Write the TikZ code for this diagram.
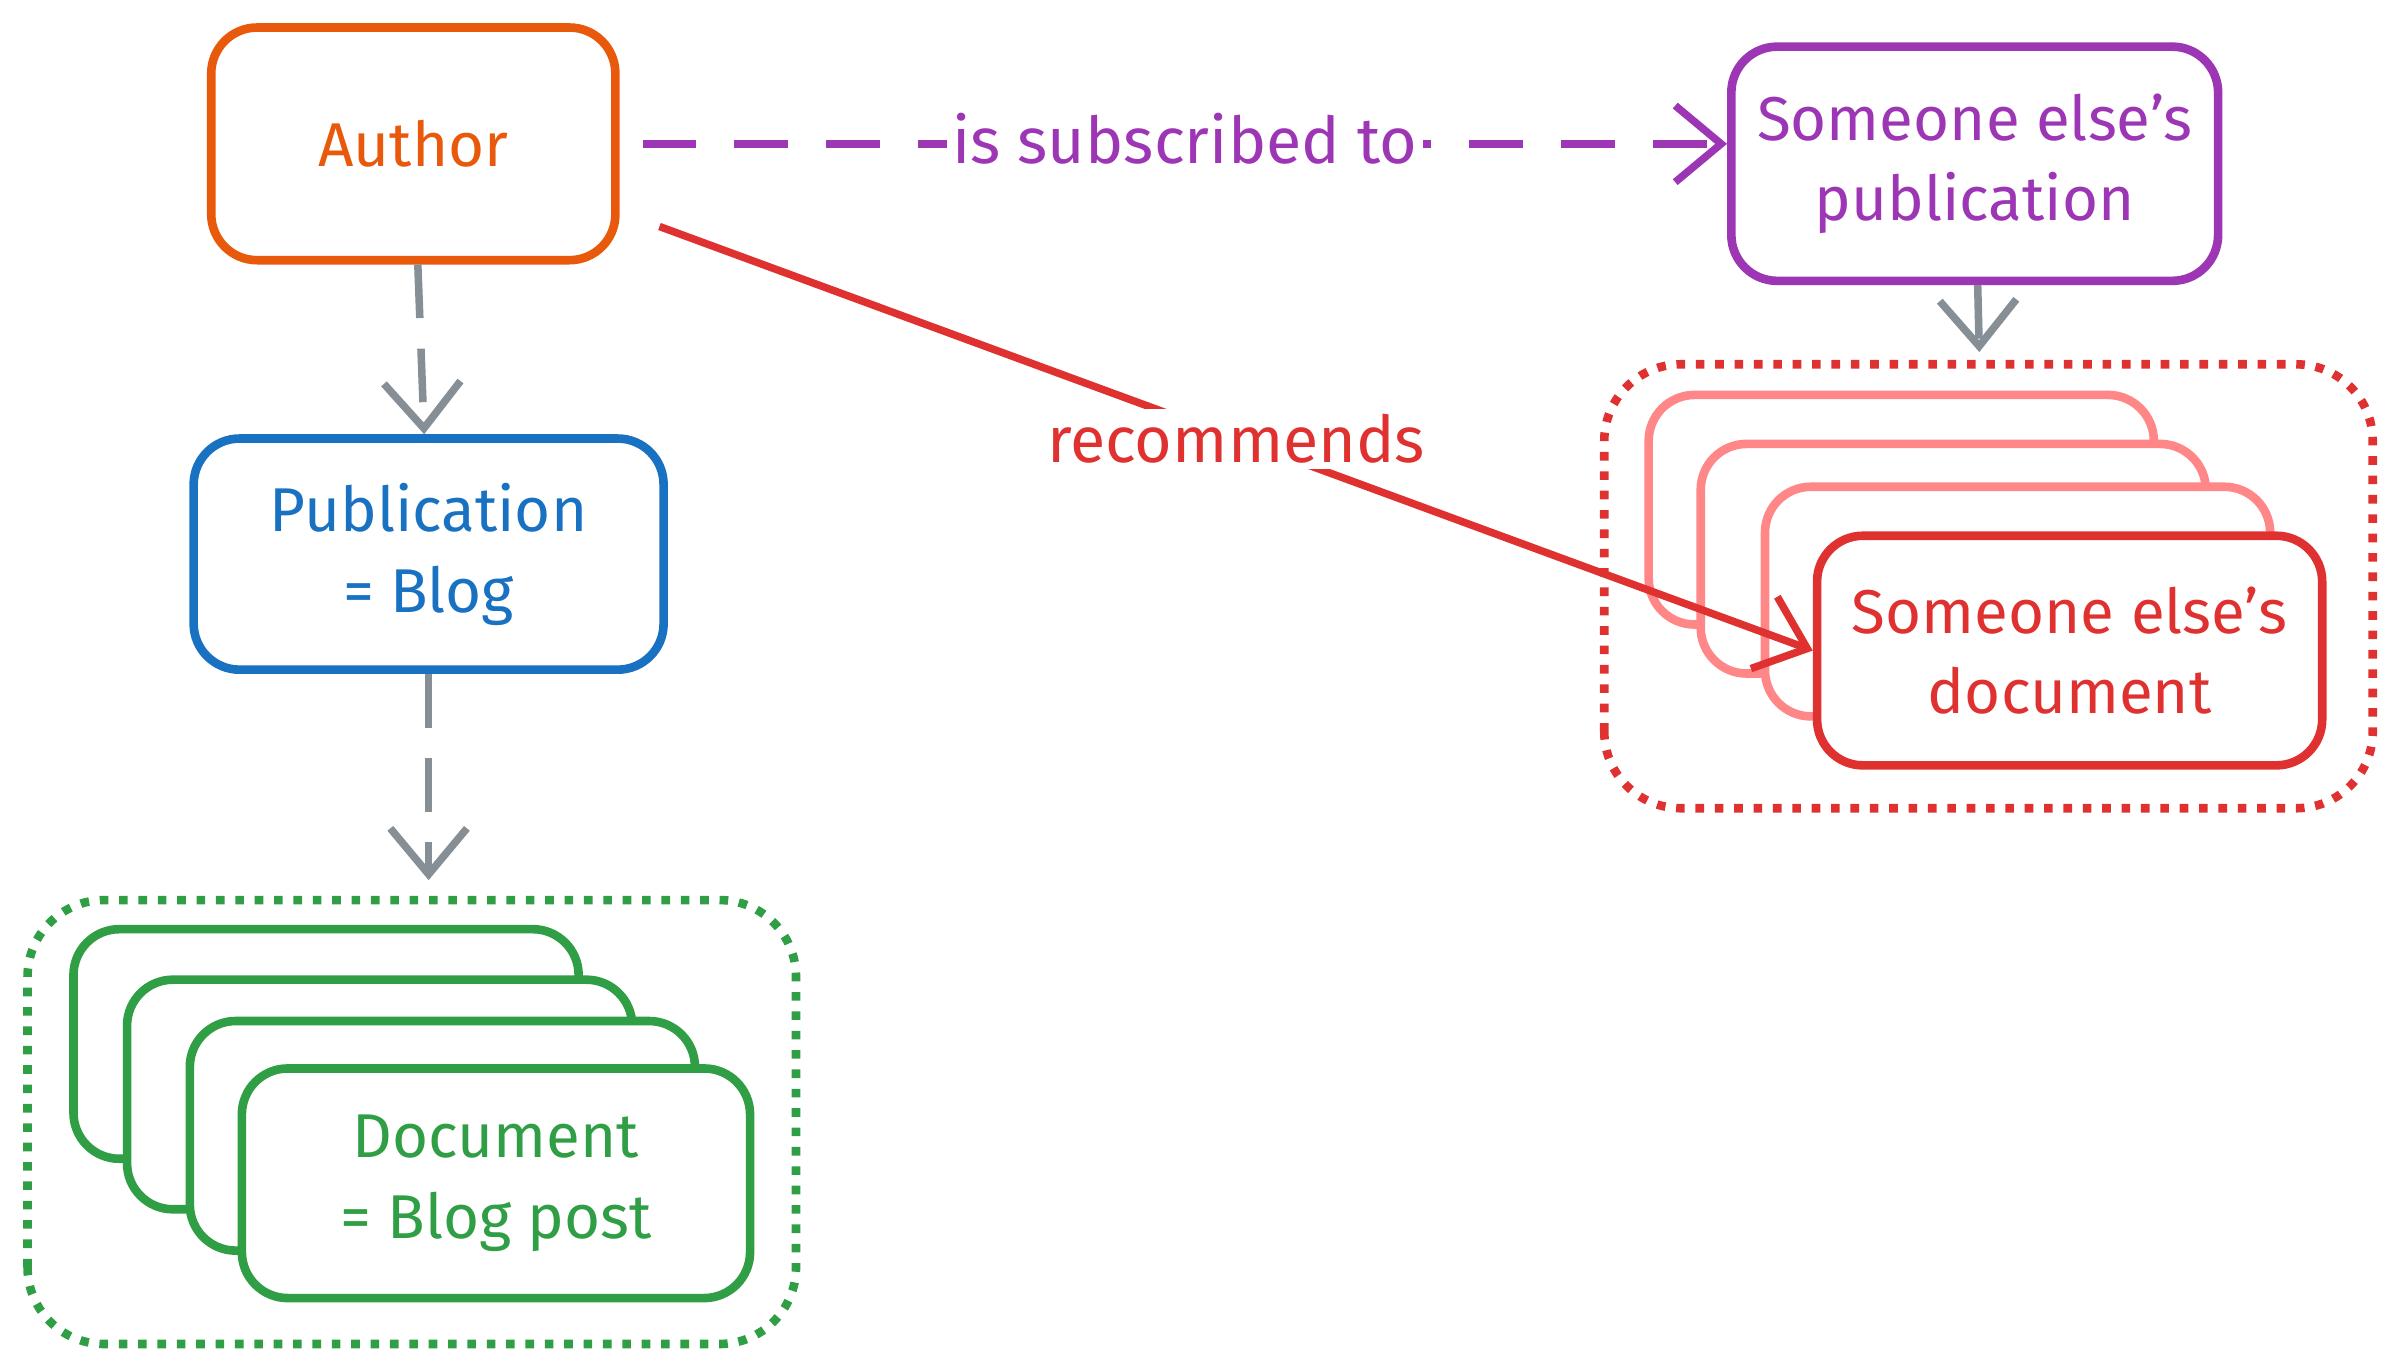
\documentclass[tikz,border=0pt]{standalone}
\usepackage{fontspec}
\setmainfont{Fira Sans}
\usetikzlibrary{arrows.meta}
\definecolor{cOrange}{HTML}{E8590C}
\definecolor{cPurple}{HTML}{9C36B5}
\definecolor{cBlue}{HTML}{1971C2}
\definecolor{cGreen}{HTML}{2F9E44}
\definecolor{cRed}{HTML}{E03131}
\definecolor{cPink}{HTML}{FF8787}
\definecolor{cGray}{HTML}{868E96}
\tikzset{
  box/.style={draw=#1, text=#1, line width=1.6pt, rounded corners=0.3cm, fill=white,
    minimum width=3.3cm, minimum height=1.5cm, inner sep=1pt, align=center, font=\fontsize{11.5}{15}\selectfont},
  group/.style={draw=#1, line width=1.6pt, dotted, rounded corners=0.5cm},
  link/.style={line width=1.4pt, -{Straight Barb[length=3mm,width=5mm]}},
  tag/.style={fill=white, inner sep=1pt, font=\fontsize{12}{15}\selectfont}
}
\begin{document}
\begin{tikzpicture}
\useasboundingbox (0,0) rectangle (15.6,8.93);
% left column
\node[box=cOrange, minimum width=2.64cm, minimum height=1.52cm] (author) at (2.70,7.99) {Author};
\node[box=cBlue, minimum width=3.07cm, minimum height=1.51cm] (blog) at (2.80,5.31) {Publication\\= Blog};
\draw[group=cGreen] (0.18,0.15) rectangle (5.20,3.05);
\node[box=cGreen] (doc1) at (2.13,2.11) {};
\node[box=cGreen] (doc2) at (2.48,1.78) {};
\node[box=cGreen] (doc3) at (2.89,1.51) {};
\node[box=cGreen, minimum width=3.32cm] (doc) at (3.24,1.20) {Document\\= Blog post};
\coordinate (docs) at (2.80,3.18);
% right column
\node[box=cPurple, minimum width=3.18cm, minimum height=1.53cm] (otherpub) at (12.90,7.86) {Someone else’s\\publication};
\draw[group=cRed] (10.48,3.65) rectangle (15.50,6.55);
\node[box=cPink] (odoc1) at (12.42,5.60) {};
\node[box=cPink] (odoc2) at (12.76,5.28) {};
\node[box=cPink] (odoc3) at (13.18,5.00) {};
\node[box=cRed] (odoc) at (13.52,4.68) {Someone else’s\\document};
\coordinate (odocs) at (12.93,6.63);
% connectors
\draw[link, cGray, dashed, dash pattern=on 3.5mm off 2mm] (author) -- (blog);
\draw[link, cGray, dashed, dash pattern=on 3.5mm off 2mm] (blog) -- (docs);
\draw[link, cGray, dashed, dash pattern=on 3.5mm off 2mm] (otherpub) -- (odocs);
\draw[link, cPurple, dash pattern=on 3.5mm off 2.5mm] (author.east) ++(0.15,0) coordinate (a1) -- (otherpub.west |- a1)
  node[tag, text=cPurple, midway, yshift=1pt] {is subscribed to};
\draw[link, cRed] (author.east) ++(0.26,-0.54) coordinate (a2) -- (odoc.west)
  node[tag, text=cRed, pos=0.5] {recommends};
\end{tikzpicture}
\end{document}
